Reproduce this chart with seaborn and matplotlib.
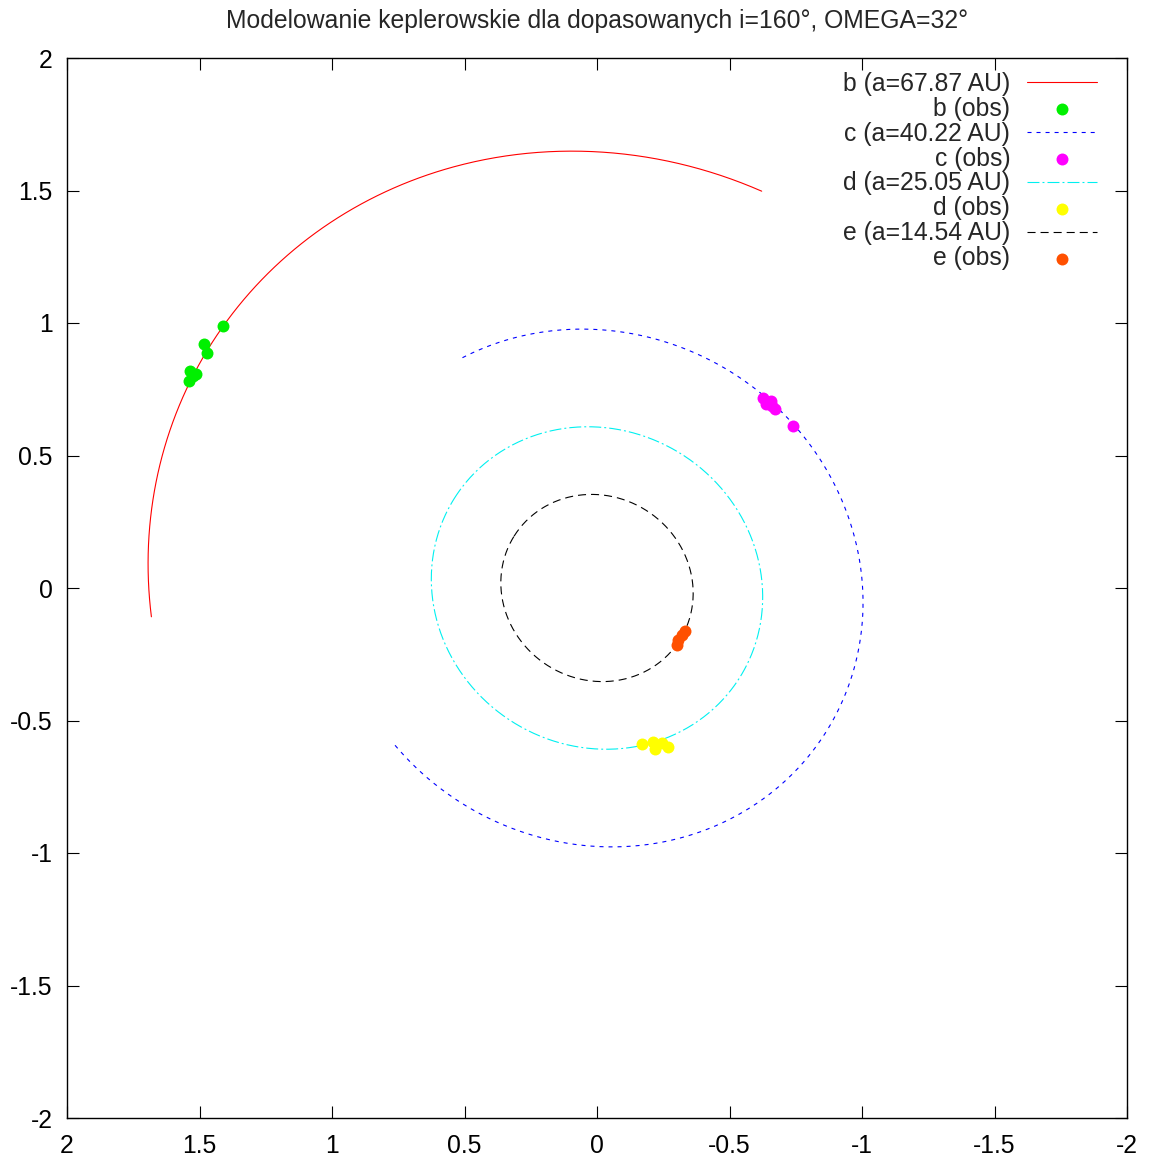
import numpy as np
import matplotlib
matplotlib.use('Agg')
import matplotlib.pyplot as plt
import seaborn as sns
import pandas as pd
from matplotlib.ticker import FormatStrFormatter

sns.set_theme(style='ticks')
plt.rcParams['font.family'] = ['Liberation Sans', 'DejaVu Sans']
plt.rcParams['axes.unicode_minus'] = False
plt.rcParams['lines.scale_dashes'] = False

# ---- data ----
planets = ['b', 'c', 'd', 'e']
semi_major_au = [67.87, 40.22, 25.05, 14.54]      # from legend
distance_pc = 39.4                                 # scale AU -> arcsec
incl_deg = 160.0                                   # from title
omega_deg = 32.0                                   # from title
# visible part of each model orbit (eccentric anomaly range, deg)
arc_start = [81.1, 29.2, 0.0, 0.0]
arc_end = [-37.4, 289.0, 360.0, 360.0]

b_obs_x = [1.411, 1.483, 1.472, 1.536, 1.513, 1.540, 1.525]
b_obs_y = [0.989, 0.921, 0.887, 0.819, 0.808, 0.781, 0.800]
c_obs_x = [-0.626, -0.657, -0.638, -0.672, -0.740, -0.660]
c_obs_y = [0.717, 0.706, 0.694, 0.675, 0.612, 0.687]
d_obs_x = [-0.170, -0.211, -0.219, -0.245, -0.268]
d_obs_y = [-0.589, -0.581, -0.608, -0.585, -0.600]
e_obs_x = [-0.332, -0.321, -0.306, -0.302]
e_obs_y = [-0.162, -0.177, -0.196, -0.215]
obs_x = [b_obs_x, c_obs_x, d_obs_x, e_obs_x]
obs_y = [b_obs_y, c_obs_y, d_obs_y, e_obs_y]

line_colors = ['#ff0000', '#0000ff', '#00f0f0', '#000000']
obs_colors = ['#00f000', '#ff00ff', '#ffff00', '#ff5000']
dash_styles = [None, (2.9, 3.6), (8.6, 2.2, 1.4, 2.2), (5.8, 3.6)]

title = 'Modelowanie keplerowskie dla dopasowanych i=160°, OMEGA=32°'
ticks = [2, 1.5, 1, 0.5, 0, -0.5, -1, -1.5, -2]

FS = 17.8

fig = plt.figure(figsize=(11.52, 11.59), dpi=100)
ax = fig.add_axes([67/1152, 1-1118/1159, 1060/1152, 1060/1159])

handles, labels = [], []
phi = np.radians(omega_deg)
ratio = abs(np.cos(np.radians(incl_deg)))
for k, p in enumerate(planets):
    a = semi_major_au[k] / distance_pc
    b = a * ratio
    t = np.radians(np.linspace(arc_start[k], arc_end[k], 600))
    X = a*np.cos(t)*np.cos(phi) - b*np.sin(t)*np.sin(phi)
    Y = a*np.cos(t)*np.sin(phi) + b*np.sin(t)*np.cos(phi)
    df = pd.DataFrame({'x': X, 'y': Y})
    n0 = len(ax.lines)
    sns.lineplot(data=df, x='x', y='y', sort=False, estimator=None, ax=ax,
                 color=line_colors[k], lw=0.8, zorder=2)
    ln = ax.lines[n0]
    if dash_styles[k] is not None:
        ln.set_dashes(dash_styles[k])
    lab = f'{p} (a={semi_major_au[k]:.2f} AU)'
    ln.set_label(lab)
    handles.append(ln); labels.append(lab)

    dfo = pd.DataFrame({'x': obs_x[k], 'y': obs_y[k]})
    n1 = len(ax.collections)
    sns.scatterplot(data=dfo, x='x', y='y', ax=ax, color=obs_colors[k], s=74,
                    linewidth=0, zorder=3)
    sc = ax.collections[n1]
    handles.append(sc); labels.append(f'{p} (obs)')

ax.set_xlim(2, -2)
ax.set_ylim(-2, 2)
ax.set_xlabel('')
ax.set_ylabel('')
ax.set_xticks(ticks)
ax.set_yticks(ticks)
ax.xaxis.set_major_formatter(FormatStrFormatter('%g'))
ax.yaxis.set_major_formatter(FormatStrFormatter('%g'))
ax.tick_params(direction='in', length=8.6, width=0.8, top=True, right=True,
               labelsize=FS, colors='black')
ax.tick_params(axis='x', pad=11.5)
ax.tick_params(axis='y', pad=10.5)
for s in ax.spines.values():
    s.set_visible(True)
    s.set_linewidth(1.0)
    s.set_color('black')
ax.set_title(title, fontsize=FS, pad=21.6)

leg = ax.legend(handles, labels, loc='upper right',
                bbox_to_anchor=(1-30/1060, 1-14/1060), frameon=False,
                borderpad=0, borderaxespad=0, handlelength=2.83,
                handletextpad=0.68, labelspacing=0.035, markerfirst=False,
                fontsize=FS, scatterpoints=1)

fig.savefig('out.png', dpi=100)
